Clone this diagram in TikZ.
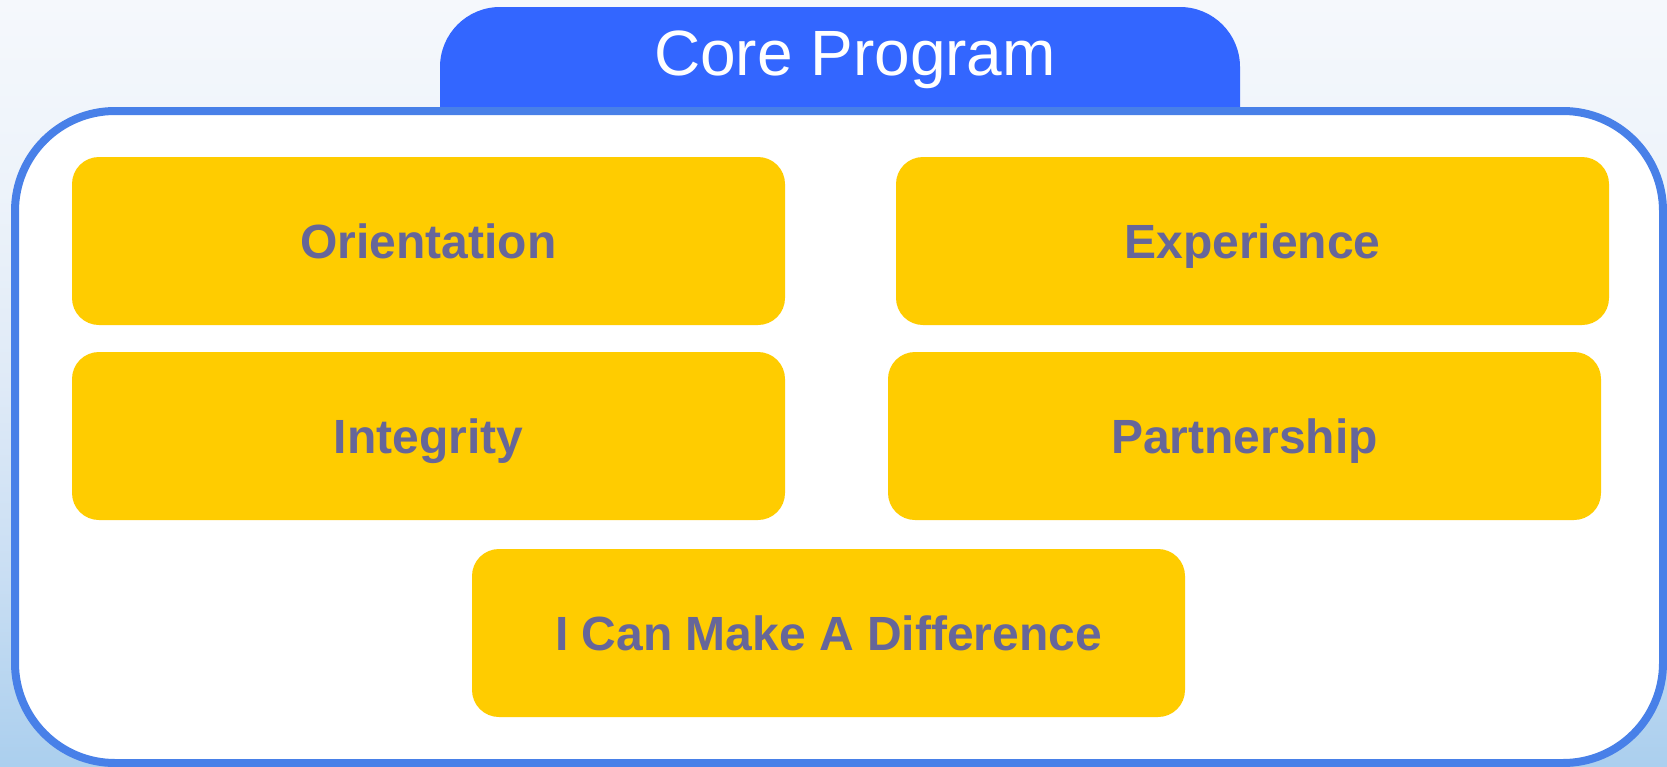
\documentclass[tikz,border=0pt]{standalone}
\usepackage{fontspec}
\setmainfont{Liberation Sans}
\definecolor{bgtop}{HTML}{F5F8FC}
\definecolor{bgq3}{HTML}{EDF3FA}
\definecolor{bgmid}{HTML}{DFEAF7}
\definecolor{bgq1}{HTML}{C9DEF3}
\definecolor{bgbot}{HTML}{ABCFEE}
\definecolor{tabblue}{HTML}{3366FF}
\definecolor{frameblue}{HTML}{4880E8}
\definecolor{boxyellow}{HTML}{FFCC00}
\definecolor{boxtext}{HTML}{666699}
\pgfdeclareverticalshading{bgshade}{100bp}{color(0bp)=(bgbot); color(25bp)=(bgbot); color(37.5bp)=(bgq1); color(50bp)=(bgmid); color(62.5bp)=(bgq3); color(75bp)=(bgtop); color(100bp)=(bgtop)}
\tikzset{
  ybox/.style={fill=boxyellow, rounded corners=27pt, minimum width=713pt, minimum height=168pt,
    inner sep=0pt, text height=34.4pt, text depth=0pt, text=boxtext,
    font=\fontsize{48}{48}\selectfont\bfseries},
  frame/.style={draw=frameblue, line width=8pt, fill=white, rounded corners=100pt},
  tabshape/.style={fill=tabblue, rounded corners=60pt},
  tabtext/.style={text=white, inner sep=0pt, text height=45.8pt, text depth=0pt,
    font=\fontsize{64}{64}\selectfont}
}
\begin{document}
\begin{tikzpicture}[x=1pt,y=-1pt]
\useasboundingbox (0,0) rectangle (1667,766);
\fill[shading=bgshade] (0,0) rectangle (1667,766);
% tab
\fill[tabshape] (440,7) rectangle (1240,200);
% frame
\draw[frame] (15,111) rectangle (1663,763);
\node[tabtext] (title) at (855,52.5) {Core Program};
% boxes
\node[ybox] (ori) at (428.5,241) {Orientation};
\node[ybox] (exp) at (1252.5,241) {Experience};
\node[ybox] (int) at (428.5,436) {Integrity};
\node[ybox] (par) at (1244.5,436) {Partnership};
\node[ybox] (dif) at (828.5,633) {I Can Make A Difference};
\end{tikzpicture}
\end{document}
